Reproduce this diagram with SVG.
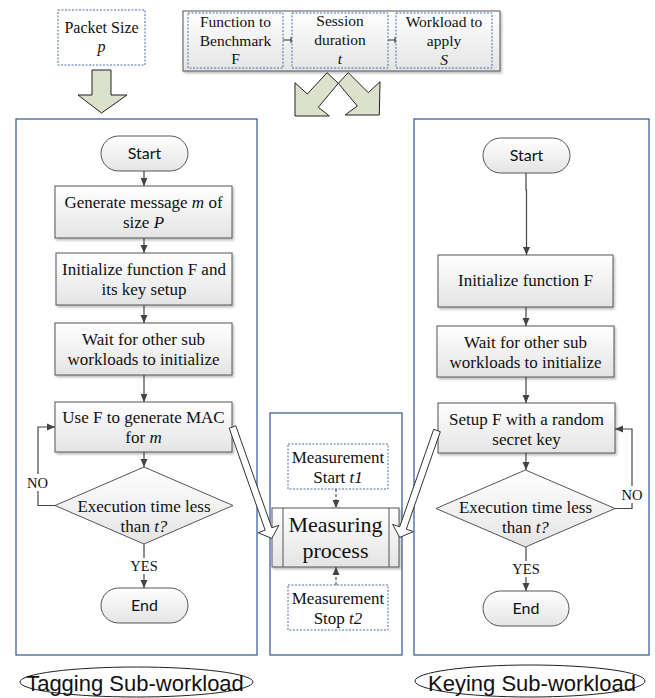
<svg xmlns="http://www.w3.org/2000/svg" width="655" height="698" viewBox="0 0 655 698">
<defs>
<linearGradient id="g" x1="0" y1="0" x2="0" y2="1"><stop offset="0" stop-color="#ffffff"/><stop offset="1" stop-color="#e4e4e4"/></linearGradient>
<filter id="sh" x="-10%" y="-10%" width="125%" height="135%"><feDropShadow dx="1.5" dy="2" stdDeviation="1.2" flood-color="#000" flood-opacity="0.25"/></filter>
<marker id="ah" markerUnits="userSpaceOnUse" markerWidth="8" markerHeight="8" refX="8" refY="4" orient="auto"><path d="M0,0.5 L8,4 L0,7.5 z" fill="#444"/></marker>
<style>
.panel{fill:none;stroke:#3c649b;stroke-width:1.3}
.proc{fill:url(#g);stroke:#555;stroke-width:1;filter:url(#sh)}
.term{fill:url(#g);stroke:#555;stroke-width:1}
.dot{fill:#fff;stroke:#4a6fa8;stroke-width:1;stroke-dasharray:2 1.5}
.doti{fill:none;stroke:#4a6fa8;stroke-width:1;stroke-dasharray:2 1.5}
.t,.ts,.tl{font-family:'Liberation Serif','Times New Roman','DejaVu Serif',serif;fill:#111;text-anchor:middle}
.t{font-size:17px}
.ts{font-size:15.5px}
.tl{font-size:14.5px}
.s{font-family:Lato,'Open Sans',sans-serif;font-size:16px;fill:#111;text-anchor:middle}
.big{font-family:'Liberation Sans',Arial,sans-serif;font-size:22px;fill:#111;text-anchor:middle}
.conn{fill:none;stroke:#444;stroke-width:1.2;marker-end:url(#ah)}
.dash{fill:none;stroke:#444;stroke-width:1.1;stroke-dasharray:3 2;marker-end:url(#ah)}
.olive{fill:#dce1cb;stroke:#222;stroke-width:1}
.hollow{fill:#fff;stroke:#333;stroke-width:1}
</style>
</defs>
<rect width="655" height="698" fill="#fff"/>

<!-- panels -->
<rect class="panel" x="16" y="119" width="241" height="536"/>
<rect class="panel" x="270" y="413" width="132" height="242"/>
<rect class="panel" x="414" y="119" width="235" height="536"/>

<!-- inputs -->
<g id="packet-size">
<rect class="dot" x="58" y="10" width="87" height="55"/>
<text class="ts" style="font-size:16px" x="101.5" y="33">Packet Size</text>
<text class="ts" style="font-size:16px;font-style:italic" x="101.5" y="52">p</text>
</g>
<g id="params">
<rect class="proc" x="183" y="11" width="317" height="60"/>
<g id="function"><rect class="doti" x="188" y="13" width="95" height="55"/>
<text class="ts" x="235.5" y="27">Function to</text><text class="ts" x="235.5" y="46">Benchmark</text><text class="ts" x="235.5" y="64">F</text></g>
<g id="session"><rect class="doti" x="292" y="13" width="96" height="55"/>
<text class="ts" x="340" y="26">Session</text><text class="ts" x="340" y="45">duration</text><text class="ts" x="340" y="64" font-style="italic">t</text></g>
<g id="workload"><rect class="doti" x="396" y="13" width="96" height="55"/>
<text class="ts" x="444" y="27">Workload to</text><text class="ts" x="444" y="46">apply</text><text class="ts" x="444" y="65" font-style="italic">S</text></g>
<path d="M283,40 H292 M291,37 V43 M388,40 H396 M395,37 V43" stroke="#333" stroke-width="1" fill="none"/>
</g>

<!-- big input arrows -->
<g id="input-arrows">
<polygon class="olive" points="92,70 111,70 111,95 127,95 101.5,113 78,95 92,95"/>
<polygon class="olive" points="295,82.7 307.3,94 327,72.7 338.3,83.3 318.3,107.3 329.3,116 295,116"/>
<polygon class="olive" points="380,81.7 368.3,92.7 348.3,72.7 338.3,83.3 357.3,106 345,115 379.3,115"/>
</g>

<!-- left flow -->
<g id="t-start"><rect class="term" x="101" y="136" width="87" height="35" rx="17.5"/><text class="s" x="144.5" y="159">Start</text></g>
<g id="t-gen"><rect class="proc" x="55" y="186" width="177" height="52"/>
<text class="t" x="143.5" y="208">Generate message <tspan font-style="italic">m</tspan> of</text><text class="t" x="143.5" y="228">size <tspan font-style="italic">P</tspan></text></g>
<g id="t-init"><rect class="proc" x="56" y="253" width="176" height="52"/>
<text class="t" x="144" y="275">Initialize function F and</text><text class="t" x="144" y="295">its key setup</text></g>
<g id="t-wait"><rect class="proc" x="55" y="323" width="177" height="52"/>
<text class="t" x="143.5" y="345">Wait for other sub</text><text class="t" x="143.5" y="365">workloads to initialize</text></g>
<g id="t-use"><rect class="proc" x="55" y="402" width="177" height="50"/>
<text class="t" x="143.5" y="423">Use F to generate MAC</text><text class="t" x="143.5" y="443">for <tspan font-style="italic">m</tspan></text></g>
<g id="t-dec"><polygon points="144,467 233,505.5 144,544 55,505.5" fill="url(#g)" stroke="#555" stroke-width="1"/>
<text class="t" x="144" y="512">Execution time less</text><text class="t" x="144" y="532">than <tspan font-style="italic">t?</tspan></text></g>
<g id="t-end"><rect class="term" x="101" y="588" width="87" height="35" rx="17.5"/><text class="s" x="144.5" y="611">End</text></g>

<!-- right flow -->
<g id="k-start"><rect class="term" x="483" y="138" width="87" height="35" rx="17.5"/><text class="s" x="526.5" y="161">Start</text></g>
<g id="k-init"><rect class="proc" x="438" y="255" width="175" height="52"/>
<text class="t" x="525.5" y="286">Initialize function F</text></g>
<g id="k-wait"><rect class="proc" x="437" y="326" width="177" height="51"/>
<text class="t" x="525.5" y="348">Wait for other sub</text><text class="t" x="525.5" y="368">workloads to initialize</text></g>
<g id="k-setup"><rect class="proc" x="438" y="403" width="177" height="50"/>
<text class="t" x="526.5" y="425">Setup F with a random</text><text class="t" x="526.5" y="445">secret key</text></g>
<g id="k-dec"><polygon points="525.5,470 615,508.5 525.5,547 436,508.5" fill="url(#g)" stroke="#555" stroke-width="1"/>
<text class="t" x="525.5" y="513">Execution time less</text><text class="t" x="525.5" y="533">than <tspan font-style="italic">t?</tspan></text></g>
<g id="k-end"><rect class="term" x="483" y="591" width="86" height="35" rx="17.5"/><text class="s" x="526" y="614">End</text></g>

<!-- middle -->
<g id="m-start"><rect class="dot" x="288" y="444" width="100" height="45"/>
<text class="t" x="338" y="463">Measurement</text><text class="t" x="338" y="483">Start <tspan font-style="italic">t1</tspan></text></g>
<g id="m-proc"><rect class="proc" x="272" y="508" width="127" height="59"/>
<path d="M283,508 V567 M389,508 V567" stroke="#555" stroke-width="1"/>
<text class="t" style="font-size:22px" x="335.5" y="532">Measuring</text><text class="t" style="font-size:22px" x="335.5" y="558">process</text></g>
<g id="m-stop"><rect class="dot" x="288" y="585" width="100" height="45"/>
<text class="t" x="338" y="604">Measurement</text><text class="t" x="338" y="624">Stop <tspan font-style="italic">t2</tspan></text></g>

<!-- connectors -->
<g id="connectors">
<path class="conn" d="M144,171 V186"/>
<path class="conn" d="M144,238 V253"/>
<path class="conn" d="M144,305 V323"/>
<path class="conn" d="M144,375 V402"/>
<path class="conn" d="M144,452 V467"/>
<path class="conn" d="M55,505.5 H38 V427 H55"/>
<path class="conn" d="M144,544 V588"/>
<path class="conn" d="M526,173 V190 H526.5 V255"/>
<path class="conn" d="M526,307 V326"/>
<path class="conn" d="M526,377 V403"/>
<path class="conn" d="M526,453 V470"/>
<path class="conn" d="M615,508.5 H632 V429 H615"/>
<path class="conn" d="M526,547 V591"/>
<path class="dash" d="M336,489 V508"/>
<path class="dash" d="M336,585 V567"/>
<polygon class="hollow" points="229.2,428.2 265.2,530.2 258.1,532.7 271.8,538.4 278.9,525.3 271.8,527.8 235.8,425.8"/>
<polygon class="hollow" points="440.3,431.7 406.3,529.2 413.4,531.6 399.7,537.4 392.6,524.4 399.7,526.8 433.7,429.3"/>
<rect x="27" y="474" width="22" height="17" fill="#fff"/>
<text class="tl" x="37.5" y="488">NO</text>
<rect x="621" y="486" width="23" height="17" fill="#fff"/>
<text class="tl" x="632" y="500">NO</text>
<rect x="129" y="558" width="30" height="16" fill="#fff"/>
<text class="tl" x="144" y="571">YES</text>
<rect x="511" y="561" width="30" height="16" fill="#fff"/>
<text class="tl" x="526" y="574">YES</text>
</g>

<!-- labels -->
<g id="tagging-label"><ellipse cx="136.5" cy="682" rx="116.5" ry="15" fill="none" stroke="#222" stroke-width="1"/>
<text class="big" x="135" y="691">Tagging Sub-workload</text></g>
<g id="keying-label"><ellipse cx="530" cy="681" rx="115" ry="16" fill="none" stroke="#222" stroke-width="1"/>
<text class="big" x="532" y="691">Keying Sub-workload</text></g>
</svg>
